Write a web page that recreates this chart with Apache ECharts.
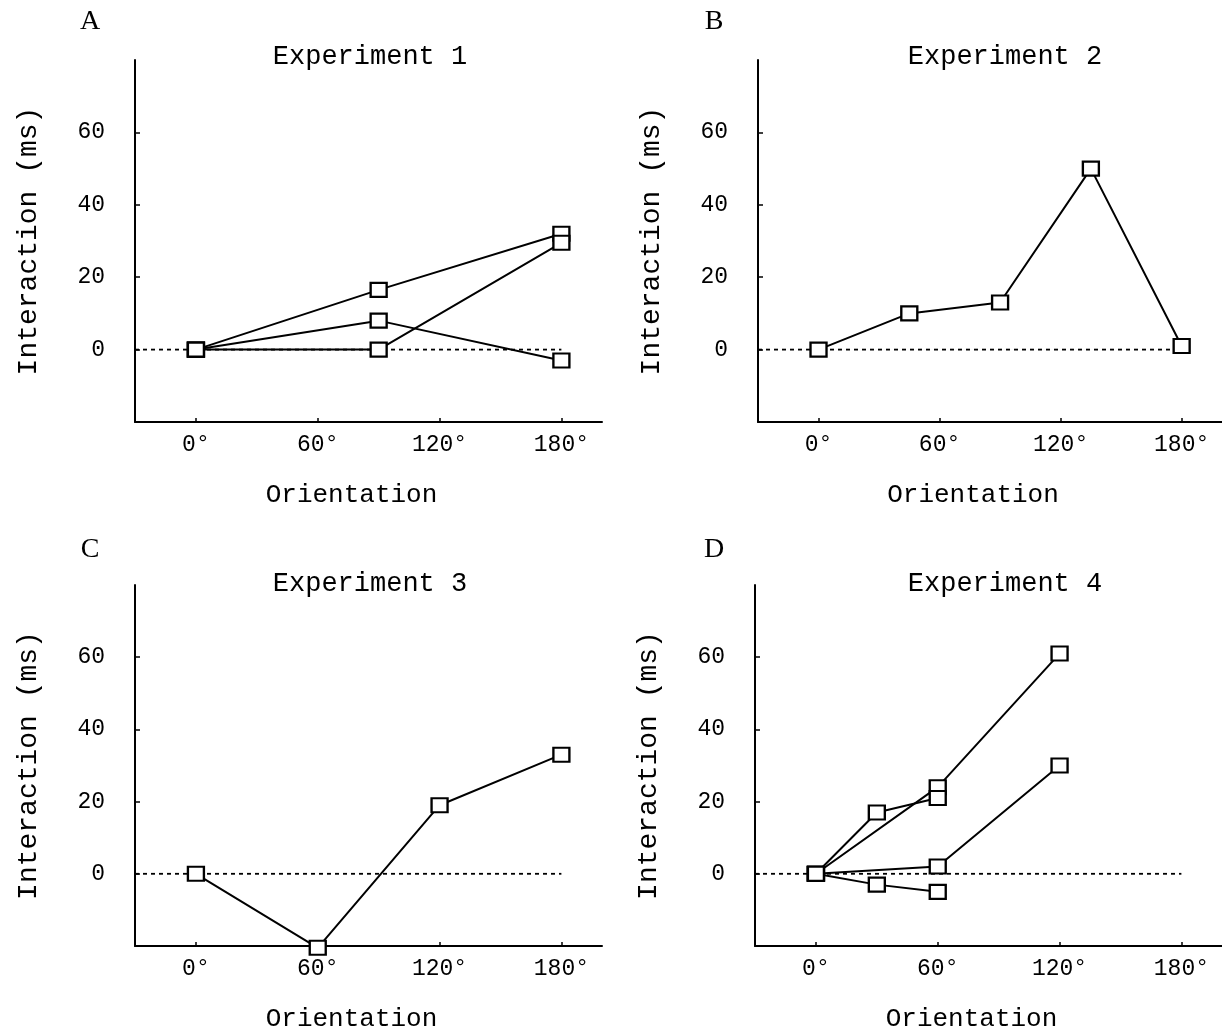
<!DOCTYPE html>
<html>
<head>
<meta charset="utf-8">
<title>Interaction by orientation</title>
<script src="https://cdn.jsdelivr.net/npm/echarts@6/dist/echarts.min.js"></script>
<style>
  html, body { margin: 0; padding: 0; background: #fff; }
  #chart { width: 1222px; height: 1033px; }
</style>
</head>
<body>
<div id="chart"></div>
<script>
// Axis ticks shared by all four panels
const orientationTicks = [0, 60, 120, 180];
const interactionTicks = [0, 20, 40, 60];
const zeroLineX = [-30, 180];

const panelLetters = ['A', 'B', 'C', 'D'];
const panelTitles = ['Experiment 1', 'Experiment 2', 'Experiment 3', 'Experiment 4'];

// Experiment 1: three conditions
const exp1Orient = [0, 90, 180];
const exp1Upper = [0, 16.5, 32];
const exp1Middle = [0, 8, -3];
const exp1Flat = [0, 0, 29.5];

// Experiment 2
const exp2Orient = [0, 45, 90, 135, 180];
const exp2Values = [0, 10, 13, 50, 1];

// Experiment 3
const exp3Orient = [0, 60, 120, 180];
const exp3Values = [0, -20.5, 19, 33];

// Experiment 4: four conditions
const exp4OrientWide = [0, 60, 120];
const exp4OrientNarrow = [0, 30, 60];
const exp4Steep = [0, 24, 61];
const exp4Early = [0, 17, 21];
const exp4Late = [0, 2, 30];
const exp4Negative = [0, -3, -5];

const panels = [
  { lines: [[exp1Orient, exp1Upper], [exp1Orient, exp1Middle], [exp1Orient, exp1Flat]] },
  { lines: [[exp2Orient, exp2Values]] },
  { lines: [[exp3Orient, exp3Values]] },
  { lines: [[exp4OrientWide, exp4Steep], [exp4OrientNarrow, exp4Early],
            [exp4OrientWide, exp4Late], [exp4OrientNarrow, exp4Negative]] }
];

const MONO = '"Liberation Mono", "Courier New", monospace';
const SERIF = '"Liberation Serif", "Times New Roman", serif';

// Plot area placement for each panel
const grids = [
  { left: 135, top: 60, width: 467, height: 362 },
  { left: 758, top: 60, width: 467, height: 362 },
  { left: 135, top: 585, width: 467, height: 362 },
  { left: 755, top: 585, width: 467, height: 362 }
];

const zip = (xs, ys) => xs.map((x, i) => [x, ys[i]]);

const xAxes = grids.map((g, i) => ({
  type: 'value', gridIndex: i, min: -30, max: 200,
  splitLine: { show: false },
  axisLine: { show: true, onZero: false, lineStyle: { color: '#000', width: 2 } },
  axisTick: { show: true, inside: true, length: 4, customValues: orientationTicks,
              lineStyle: { color: '#000', width: 1.5 } },
  axisLabel: { customValues: orientationTicks, formatter: v => v + '°',
               color: '#000', fontFamily: MONO, fontSize: 23, margin: 11 },
  name: 'Orientation', nameLocation: 'middle', nameGap: 60,
  nameTextStyle: { color: '#000', fontFamily: MONO, fontSize: 26, padding: [0, 34, 0, 0] }
}));

const yAxes = grids.map((g, i) => ({
  type: 'value', gridIndex: i, min: -20, max: 80,
  splitLine: { show: false },
  axisLine: { show: true, onZero: false, lineStyle: { color: '#000', width: 2 } },
  axisTick: { show: true, inside: true, length: 5, customValues: interactionTicks,
              lineStyle: { color: '#000', width: 1.5 } },
  axisLabel: { customValues: interactionTicks,
               formatter: v => (interactionTicks.indexOf(v) >= 0 ? String(v) : ''),
               color: '#000', fontFamily: MONO, fontSize: 23, margin: 30 },
  name: 'Interaction (ms)', nameLocation: 'middle', nameGap: 92,
  nameTextStyle: { color: '#000', fontFamily: MONO, fontSize: 28 }
}));

const series = [];
panels.forEach((p, i) => {
  // dotted reference line at zero
  series.push({
    type: 'line', xAxisIndex: i, yAxisIndex: i, silent: true, symbol: 'none', z: 1,
    data: zeroLineX.map(x => [x, 0]),
    lineStyle: { color: '#000', width: 1.8, type: [4, 4] }
  });
  p.lines.forEach(([xs, ys]) => {
    series.push({
      type: 'line', xAxisIndex: i, yAxisIndex: i, clip: false, z: 3,
      data: zip(xs, ys),
      symbol: 'rect', symbolSize: [16, 14], showAllSymbol: true,
      itemStyle: { color: '#fff', borderColor: '#000', borderWidth: 2.2 },
      lineStyle: { color: '#000', width: 2 }
    });
  });
});

const letterPos = [[90, 22], [714, 22], [90, 550], [714, 550]];
const titlePos = [[370, 57], [1005, 57], [370, 584], [1005, 584]];

const graphics = [];
panelLetters.forEach((t, i) => {
  graphics.push({
    type: 'text', x: letterPos[i][0], y: letterPos[i][1],
    style: { text: t, font: '28px ' + SERIF, fill: '#000', align: 'center', verticalAlign: 'middle' }
  });
  graphics.push({
    type: 'text', x: titlePos[i][0], y: titlePos[i][1],
    style: { text: panelTitles[i], font: '27px ' + MONO, fill: '#000', align: 'center', verticalAlign: 'middle' }
  });
});

const chart = echarts.init(document.getElementById('chart'), null, { renderer: 'canvas' });
chart.setOption({
  animation: false,
  backgroundColor: '#fff',
  grid: grids.map(g => Object.assign({ containLabel: false }, g)),
  xAxis: xAxes,
  yAxis: yAxes,
  series: series,
  graphic: graphics
});
</script>
</body>
</html>
